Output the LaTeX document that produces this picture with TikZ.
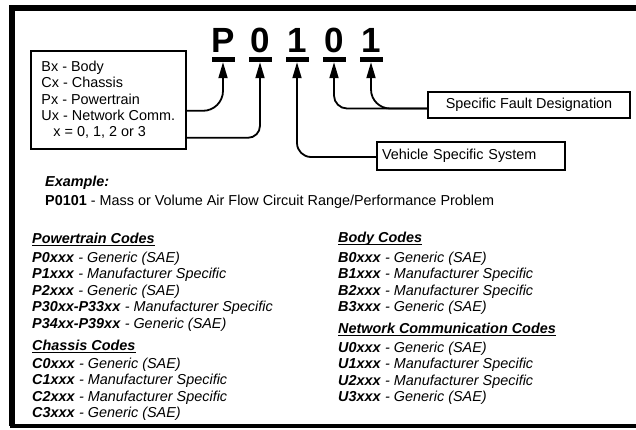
\documentclass[tikz,border=0pt]{standalone}
\usepackage{fontspec}
\setmainfont{Liberation Sans}
\usetikzlibrary{arrows.meta}
\newcommand\codeitem[2]{\textbf{\itshape #1}\textit{ - #2}}
\begin{document}
\begin{tikzpicture}[x=1pt,y=-1pt,
  every node/.style={inner sep=0pt, font=\fontsize{14.4}{16.3}\selectfont},
  big/.style={font=\fontsize{35}{35}\selectfont\bfseries, anchor=base},
  bar/.style={fill=black, minimum width=23pt, minimum height=5pt, inner sep=0pt},
  lbl/.style={draw, line width=1.6pt},
  arr/.style={line width=1.8pt, -{Triangle[length=16pt,width=9pt]}},
  item/.style={anchor=base west},
  head/.style={anchor=base west, font=\fontsize{14.4}{16}\selectfont\bfseries\itshape},
  ul/.style={line width=1.2pt}
]
\useasboundingbox (0,0) rectangle (636,430);
% frame
\draw[line width=6pt] (636,8.5) -- (12,8.5) -- (12,426);
\draw[line width=3.5pt] (10,426) -- (636,426);
% big code
\node[big] (cP) at (223,53) {P};
\node[big] (c0a) at (260,53) {0};
\node[big] (c1a) at (297,53) {1};
\node[big] (c0b) at (334,53) {0};
\node[big] (c1b) at (371,53) {1};
\node[bar] (b1) at (223,59.5) {};
\node[bar] (b2) at (260,59.5) {};
\node[bar] (b3) at (297,59.5) {};
\node[bar] (b4) at (334,59.5) {};
\node[bar] (b5) at (371,59.5) {};
% boxes
\node[lbl, minimum width=155pt, minimum height=98pt, align=left, anchor=north west] (lbox) at (30,50)
  {Bx - Body\\Cx - Chassis\\Px - Powertrain\\Ux - Network Comm.\\\hspace*{12pt}x = 0, 1, 2 or 3};
\node[lbl, minimum width=202pt, minimum height=26pt] (fbox) at (529,105) {Specific Fault Designation};
\node[lbl, text width=178pt, inner xsep=5pt, minimum height=28pt, align=left] (vbox) at (471,156) {Vehicle Specific System};
% arrows
\draw[arr, rounded corners=20pt] ([yshift=-11pt]lbox.east) -| (b1.south);
\draw[arr, rounded corners=12pt] ([yshift=-38pt]lbox.east) -| (b2.south);
\draw[arr, rounded corners=14pt] ([yshift=-1pt]vbox.west) -| (b3.south);
\draw[arr, rounded corners=13pt] ([yshift=-3.5pt]fbox.west) -| (b4.south);
\draw[arr, rounded corners=19pt] ([yshift=-3.5pt]fbox.west) -| (b5.south);
% example
\node[head] (ex) at (45,187) {Example:};
\node[item] (exl) at (45,206) {\textbf{P0101} - Mass or Volume Air Flow Circuit Range/Performance Problem};
% left column
\node[head] (hP) at (32,243) {Powertrain Codes};
\draw[ul] ([yshift=-2.3pt]hP.base west) -- ([yshift=-2.3pt]hP.base east);
\node[item] (p0) at (32,262) {\codeitem{P0xxx}{Generic (SAE)}};
\node[item] (p1) at (32,278.5) {\codeitem{P1xxx}{Manufacturer Specific}};
\node[item] (p2) at (32,295) {\codeitem{P2xxx}{Generic (SAE)}};
\node[item] (p3) at (32,311.5) {\codeitem{P30xx-P33xx}{Manufacturer Specific}};
\node[item] (p4) at (32,328) {\codeitem{P34xx-P39xx}{Generic (SAE)}};
\node[head] (hC) at (32,350) {Chassis Codes};
\draw[ul] ([yshift=-2.3pt]hC.base west) -- ([yshift=-2.3pt]hC.base east);
\node[item] (c0) at (32,368) {\codeitem{C0xxx}{Generic (SAE)}};
\node[item] (c1) at (32,384.5) {\codeitem{C1xxx}{Manufacturer Specific}};
\node[item] (c2) at (32,401) {\codeitem{C2xxx}{Manufacturer Specific}};
\node[item] (c3) at (32,417.5) {\codeitem{C3xxx}{Generic (SAE)}};
% right column
\node[head] (hB) at (338,242) {Body Codes};
\draw[ul] ([yshift=-2.3pt]hB.base west) -- ([yshift=-2.3pt]hB.base east);
\node[item] (bb0) at (338,262) {\codeitem{B0xxx}{Generic (SAE)}};
\node[item] (bb1) at (338,278.5) {\codeitem{B1xxx}{Manufacturer Specific}};
\node[item] (bb2) at (338,295) {\codeitem{B2xxx}{Manufacturer Specific}};
\node[item] (bb3) at (338,311.5) {\codeitem{B3xxx}{Generic (SAE)}};
\node[head] (hU) at (338,333) {Network Communication Codes};
\draw[ul] ([yshift=-2.3pt]hU.base west) -- ([yshift=-2.3pt]hU.base east);
\node[item] (u0) at (338,352) {\codeitem{U0xxx}{Generic (SAE)}};
\node[item] (u1) at (338,368.5) {\codeitem{U1xxx}{Manufacturer Specific}};
\node[item] (u2) at (338,385) {\codeitem{U2xxx}{Manufacturer Specific}};
\node[item] (u3) at (338,401.5) {\codeitem{U3xxx}{Generic (SAE)}};
\end{tikzpicture}
\end{document}
